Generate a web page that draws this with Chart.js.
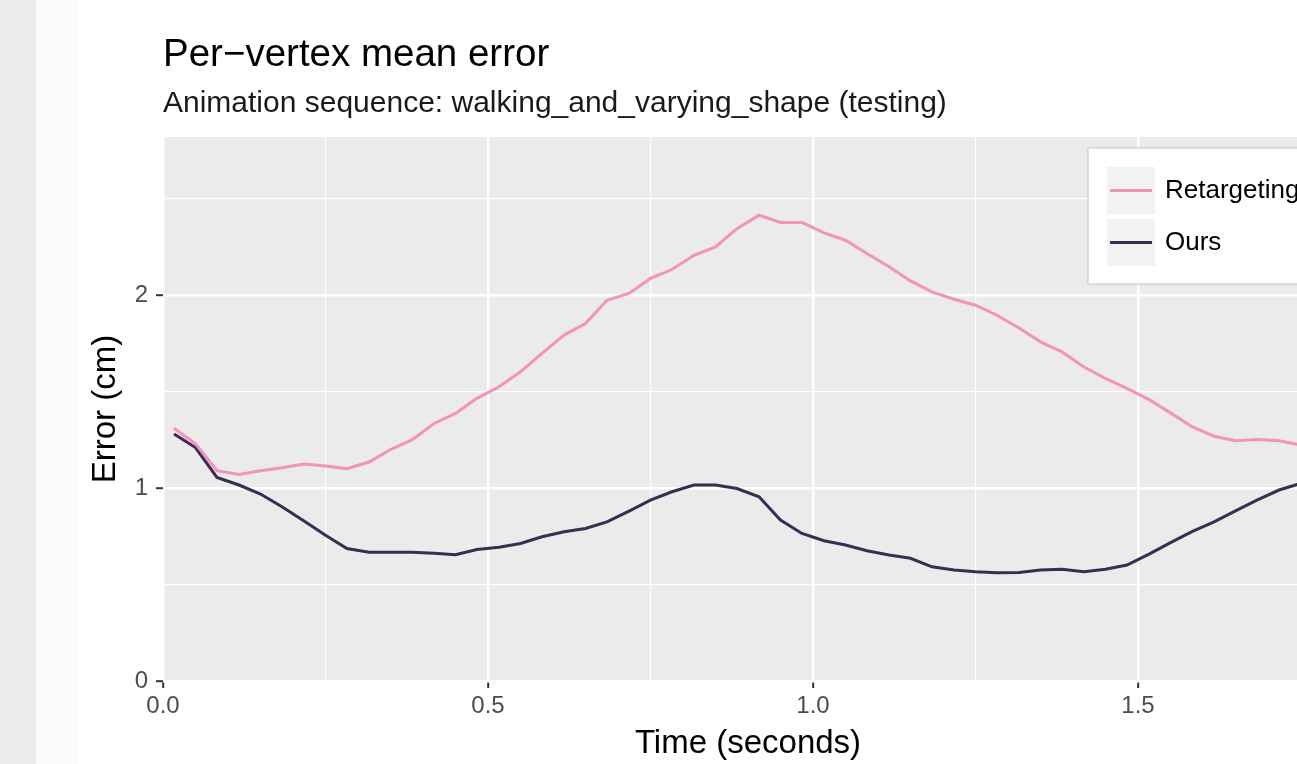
<!DOCTYPE html>
<html>
<head>
<meta charset="utf-8">
<script src="https://cdn.jsdelivr.net/npm/chart.js@4.4.1/dist/chart.umd.min.js"></script>
<style>
    html, body { margin: 0; padding: 0; background: #fff; overflow: hidden; width: 1297px; height: 764px; }
    .strip { position: absolute; left: 0; top: 0; width: 36px; height: 764px; background: #ebebeb; }
    .strip2 { position: absolute; left: 36px; top: 0; width: 42px; height: 764px; background: #fbfbfb; }
    #errorChart { position: absolute; left: 0; top: 0; }
</style>
</head>
<body>
<div class="strip"></div>
<div class="strip2"></div>
<canvas id="errorChart" width="1353" height="764"></canvas>
<script>
// frame times (seconds)
const times = [0.017, 0.050, 0.083, 0.117, 0.150, 0.183, 0.217, 0.250, 0.283, 0.317,
    0.350, 0.383, 0.417, 0.450, 0.483, 0.517, 0.550, 0.583, 0.617, 0.650,
    0.683, 0.717, 0.750, 0.783, 0.817, 0.850, 0.883, 0.917, 0.950, 0.983,
    1.017, 1.050, 1.083, 1.117, 1.150, 1.183, 1.217, 1.250, 1.283, 1.317,
    1.350, 1.383, 1.417, 1.450, 1.483, 1.517, 1.550, 1.583, 1.617, 1.650,
    1.683, 1.717, 1.750];

const retargeting = [1.31, 1.23, 1.09, 1.07, 1.09, 1.105, 1.125, 1.115, 1.10, 1.135,
    1.20, 1.25, 1.335, 1.387, 1.465, 1.525, 1.603, 1.698, 1.793, 1.853,
    1.974, 2.009, 2.087, 2.133, 2.207, 2.25, 2.345, 2.415, 2.377, 2.377,
    2.323, 2.285, 2.216, 2.147, 2.074, 2.017, 1.979, 1.948, 1.896, 1.83,
    1.758, 1.706, 1.628, 1.568, 1.517, 1.459, 1.39, 1.318, 1.269, 1.245,
    1.252, 1.245, 1.223];

const ours = [1.28, 1.21, 1.055, 1.016, 0.969, 0.903, 0.829, 0.756, 0.687, 0.667,
    0.667, 0.667, 0.662, 0.655, 0.682, 0.693, 0.713, 0.748, 0.774, 0.791,
    0.825, 0.881, 0.938, 0.981, 1.016, 1.016, 0.998, 0.955, 0.834, 0.765,
    0.727, 0.705, 0.675, 0.653, 0.636, 0.592, 0.575, 0.566, 0.561, 0.563,
    0.575, 0.579, 0.566, 0.579, 0.601, 0.658, 0.717, 0.774, 0.825, 0.882,
    0.938, 0.99, 1.024];

const seriesNames = ['Retargeting', 'Ours'];
const seriesColors = ['#f392ba', '#3d2b54'];

const FONT = "'Liberation Sans', Arial, sans-serif";

const isMultiple = (v, step) => Math.abs(v / step - Math.round(v / step)) < 1e-6;

// grey ggplot-style panel
const panelBackground = {
    id: 'panelBackground',
    beforeDraw(chart) {
        const { ctx, chartArea: a } = chart;
        ctx.save();
        ctx.fillStyle = '#ebebeb';
        ctx.fillRect(a.left, a.top, a.right - a.left, a.bottom - a.top);
        ctx.restore();
    }
};

// legend box sitting inside the panel, top right
const insideLegend = {
    id: 'insideLegend',
    afterDraw(chart) {
        const { ctx, chartArea: a } = chart;
        const boxW = 230, boxH = 136;
        const x0 = a.right - 15 - boxW;
        const y0 = a.top + 11;
        ctx.save();
        ctx.fillStyle = '#ffffff';
        ctx.fillRect(x0, y0, boxW, boxH);
        ctx.strokeStyle = '#d4d4d4';
        ctx.lineWidth = 1.5;
        ctx.strokeRect(x0, y0, boxW, boxH);
        seriesNames.forEach((name, i) => {
            const ky = y0 + 19 + i * 52;
            ctx.fillStyle = '#f2f2f2';
            ctx.fillRect(x0 + 19, ky, 48, 47);
            ctx.strokeStyle = seriesColors[i];
            ctx.lineWidth = 3;
            ctx.beginPath();
            ctx.moveTo(x0 + 22, ky + 23.5);
            ctx.lineTo(x0 + 64, ky + 23.5);
            ctx.stroke();
            ctx.fillStyle = '#000';
            ctx.font = '26px ' + FONT;
            ctx.textBaseline = 'middle';
            ctx.fillText(name, x0 + 77, ky + 24);
        });
        ctx.restore();
    }
};

const ctx = document.getElementById('errorChart').getContext('2d');
new Chart(ctx, {
    type: 'line',
    data: {
        datasets: [
            {
                label: seriesNames[0],
                data: times.map((t, i) => ({ x: t, y: retargeting[i] })),
                borderColor: seriesColors[0],
                borderWidth: 3,
                pointRadius: 0,
                tension: 0
            },
            {
                label: seriesNames[1],
                data: times.map((t, i) => ({ x: t, y: ours[i] })),
                borderColor: seriesColors[1],
                borderWidth: 3,
                pointRadius: 0,
                tension: 0
            }
        ]
    },
    options: {
        responsive: false,
        animation: false,
        devicePixelRatio: 1,
        layout: { padding: { left: 0, right: 20, top: 0, bottom: 0 } },
        plugins: {
            legend: { display: false },
            tooltip: { enabled: false },
            title: {
                display: true,
                text: 'Per\u2212vertex mean error',
                align: 'start',
                fullSize: false,
                color: '#000',
                font: { family: FONT, size: 38.5, weight: 'normal' },
                padding: { top: 32, bottom: 1.3 }
            },
            subtitle: {
                display: true,
                text: 'Animation sequence: walking_and_varying_shape (testing)',
                align: 'start',
                fullSize: false,
                color: '#1a1a1a',
                font: { family: FONT, size: 30, weight: 'normal' },
                padding: { top: 6, bottom: 15.5 }
            }
        },
        scales: {
            x: {
                type: 'linear',
                min: 0,
                max: 1.8,
                afterFit: (s) => { s.height = 83; },
                border: { display: false },
                grid: {
                    color: '#ffffff',
                    lineWidth: (c) => isMultiple(c.tick.value, 0.5) ? 2.4 : 1.2,
                    tickColor: (c) => isMultiple(c.tick.value, 0.5) ? '#333333' : 'rgba(0,0,0,0)',
                    tickWidth: 2,
                    tickLength: 7
                },
                ticks: {
                    stepSize: 0.25,
                    includeBounds: false,
                    autoSkip: false,
                    maxRotation: 0,
                    padding: 4,
                    color: '#4d4d4d',
                    font: { family: FONT, size: 24 },
                    callback: (v) => isMultiple(v, 0.5) ? v.toFixed(1) : ''
                },
                title: {
                    display: true,
                    text: 'Time (seconds)',
                    color: '#000',
                    font: { family: FONT, size: 33 },
                    padding: { top: 0, bottom: 0 }
                }
            },
            y: {
                min: 0,
                max: 2.82,
                afterFit: (s) => { s.width = 163; },
                border: { display: false },
                grid: {
                    color: '#ffffff',
                    lineWidth: (c) => isMultiple(c.tick.value, 1) ? 2.4 : 1.2,
                    tickColor: (c) => isMultiple(c.tick.value, 1) ? '#333333' : 'rgba(0,0,0,0)',
                    tickWidth: 2,
                    tickLength: 7
                },
                ticks: {
                    stepSize: 0.5,
                    includeBounds: false,
                    autoSkip: false,
                    padding: 8,
                    color: '#4d4d4d',
                    font: { family: FONT, size: 24 },
                    callback: (v) => isMultiple(v, 1) ? String(v) : ''
                },
                title: {
                    display: true,
                    text: 'Error (cm)',
                    color: '#000',
                    font: { family: FONT, size: 33 },
                    padding: { top: 86.5, bottom: 0 }
                }
            }
        }
    },
    plugins: [panelBackground, insideLegend]
});
</script>
</body>
</html>
